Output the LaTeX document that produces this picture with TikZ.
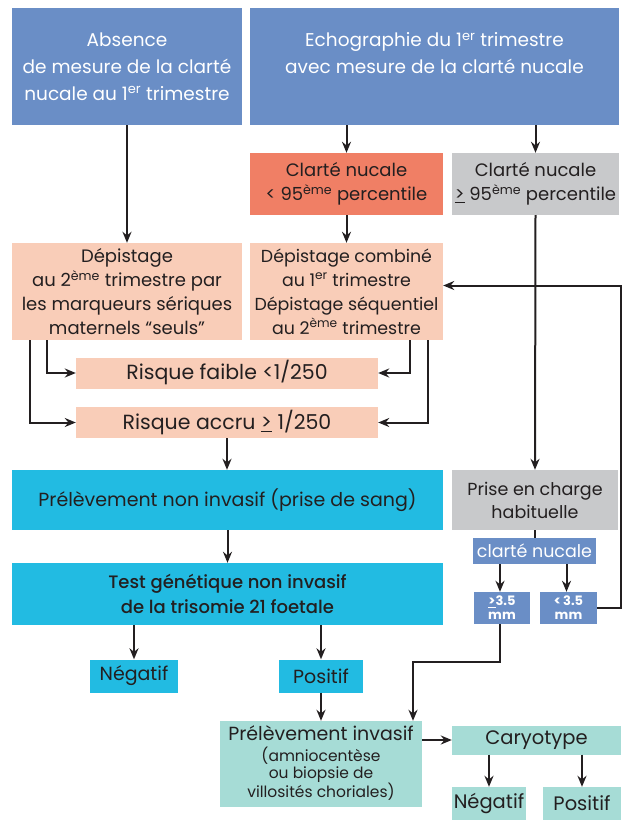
\documentclass[tikz,border=0pt]{standalone}
\usepackage{fontspec}
\setmainfont{Poppins}
\IfFontExistsTF{Poppins Medium}{\newfontfamily\medfont{Poppins Medium}}{\newcommand{\medfont}{\bfseries}}
\usetikzlibrary{arrows.meta}

\definecolor{hdrblue}{RGB}{106,142,198}
\definecolor{nucorange}{RGB}{240,127,101}
\definecolor{nucgray}{RGB}{200,201,203}
\definecolor{peach}{RGB}{249,205,184}
\definecolor{cyanbox}{RGB}{34,187,226}
\definecolor{tealbox}{RGB}{166,220,214}
\definecolor{ink}{RGB}{35,31,32}

\newcommand{\fs}[2]{\fontsize{#1}{#2}\selectfont}

\tikzset{
  box/.style={inner sep=0pt, align=center, text=ink, font=\fs{18}{24}},
  hdr/.style={box, fill=hdrblue, text=white, font=\fs{18.5}{27}},
  orbox/.style={box, fill=nucorange},
  grbox/.style={box, fill=nucgray},
  pebox/.style={box, fill=peach},
  cybox/.style={box, fill=cyanbox},
  tebox/.style={box, fill=tealbox, font=\fs{19.5}{24}},
  mmbox/.style={box, fill=hdrblue, text=white, font=\fs{13}{14}\bfseries},
  arr/.style={-{Stealth[length=11pt,width=9pt]}, line width=2pt, draw=ink},
  ln/.style={line width=2pt, draw=ink},
}

\begin{document}
\begin{tikzpicture}[x=1pt,y=-1pt]
    \useasboundingbox (0,0) rectangle (623,833);

    %Top row
    \node[hdr, minimum width=230, minimum height=117] (absn) at (127,66.5)
        {Absence\\de mesure de la clarté\\nucale au 1\textsuperscript{er} trimestre};
    \node[hdr, minimum width=369, minimum height=117] (echo) at (434.5,66.5)
        {Echographie du 1\textsuperscript{er} trimestre\\avec mesure de la clarté nucale\\\mbox{}};

    %Clarte nucale
    \node[orbox, minimum width=193, minimum height=62] (cnlow) at (346.5,184)
        {Clarté nucale\\< 95\textsuperscript{ème} percentile};
    \node[grbox, minimum width=167, minimum height=62] (cnhigh) at (535.5,184)
        {Clarté nucale\\\underline{>} 95\textsuperscript{ème} percentile};

    %Depistage
    \node[pebox, minimum width=230, minimum height=97] (depser) at (127,291.5)
        {Dépistage\\au 2\textsuperscript{ème} trimestre par\\les marqueurs sériques\\maternels “seuls”};
    \node[pebox, minimum width=193, minimum height=97, font=\fs{17.4}{24}] (depcomb) at (346.5,291.5)
        {Dépistage combiné\\au 1\textsuperscript{er} trimestre\\Dépistage séquentiel\\au 2\textsuperscript{ème} trimestre};

    %Risque
    \node[pebox, minimum width=302, minimum height=31, font=\fs{20.5}{24}] (rfaible) at (227,373)
        {Risque faible <1/250};
    \node[pebox, minimum width=302, minimum height=31, font=\fs{20.5}{24}] (raccru) at (227,422.5)
        {Risque accru \underline{>} 1/250};

    %Non invasif
    \node[cybox, minimum width=431, minimum height=60, font=\fs{19}{24}] (pni) at (227.5,500)
        {Prélèvement non invasif (prise de sang)};
    \node[grbox, minimum width=166, minimum height=60, font=\fs{17.5}{23}] (prise) at (535,500)
        {Prise en charge\\habituelle};
    \node[mmbox, minimum width=123, minimum height=26, font=\fs{17.5}{20}] (cnsmall) at (534.5,551)
        {clarté nucale};
    \node[mmbox, minimum width=56, minimum height=32] (mmge) at (502,608)
        {\underline{>}3.5\\mm};
    \node[mmbox, minimum width=57, minimum height=32] (mmlt) at (568.5,608)
        {<\,3.5\\mm};

    \node[cybox, minimum width=431, minimum height=62, font=\fs{18}{25}\medfont] (tgni) at (227.5,594)
        {Test génétique non invasif\\de la trisomie 21 foetale};
    \node[cybox, minimum width=88, minimum height=33, font=\fs{19}{24}] (neg1) at (134,676)
        {Négatif};
    \node[cybox, minimum width=84, minimum height=33, font=\fs{19}{24}] (pos1) at (321,676)
        {Positif};

    %Invasif
    \node[tebox, minimum width=202, minimum height=86, font=\fs{19}{21}] (pinv) at (321,764)
        {Prélèvement invasif\\{\fs{15.5}{17}\begin{tabular}[t]{@{}c@{}}(amniocentèse\\ou biopsie de\\villosités choriales)\end{tabular}}};
    \node[tebox, minimum width=169, minimum height=29] (caryo) at (536.5,740)
        {Caryotype};
    \node[tebox, minimum width=74, minimum height=33] (neg2) at (489,803.5)
        {Négatif};
    \node[tebox, minimum width=78, minimum height=33] (pos2) at (582,803.5)
        {Positif};

    %Arrows
    \draw[arr] (absn.south) -- (depser.north);
    \draw[arr] (echo.south -| cnlow.north) -- (cnlow.north);
    \draw[arr] (echo.south -| cnhigh.north) -- (cnhigh.north);
    \draw[arr] (cnlow.south) -- (depcomb.north);
    \draw[arr] (cnhigh.south) -- (prise.north);

    \draw[arr] ([xshift=-80]depser.south) |- (rfaible.west);
    \draw[arr] ([xshift=-97]depser.south) |- (raccru.west);
    \draw[arr] ([xshift=63]depcomb.south) |- (rfaible.east);
    \draw[arr] ([xshift=81]depcomb.south) |- (raccru.east);

    \draw[arr] (raccru.south) -- (raccru.south |- pni.north);
    \draw[arr] (pni.south) -- (pni.south |- tgni.north);
    \draw[arr] (tgni.south -| neg1.north) -- (neg1.north);
    \draw[arr] (tgni.south -| pos1.north) -- (pos1.north);
    \draw[arr] (pos1.south) -- (pos1.south |- pinv.north);

    \draw[ln] (prise.south) -- (prise.south |- cnsmall.north);
    \draw[arr] ([xshift=-2]cnsmall.south -| mmge.north) -- ([xshift=-2]mmge.north);
    \draw[arr] ([xshift=-2]cnsmall.south -| mmlt.north) -- ([xshift=-2]mmlt.north);

    \draw[arr] ([xshift=-2]mmge.south) -- ++(0,38) -| ([xshift=92]pinv.north);
    \draw[arr] (mmlt.east) -- ++(24,0) |- ([yshift=6]depcomb.east);

    \draw[arr] (pinv.east |- caryo.west) -- (caryo.west);
    \draw[arr] (caryo.south -| neg2.north) -- (neg2.north);
    \draw[arr] (caryo.south -| pos2.north) -- (pos2.north);
\end{tikzpicture}
\end{document}
